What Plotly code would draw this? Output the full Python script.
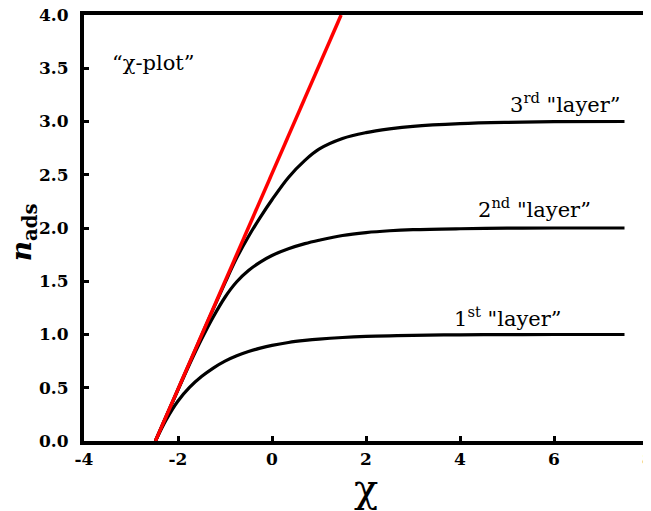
import plotly.graph_objects as go

chi = [-2.48, -2.25, -2.0, -1.75, -1.5, -1.25, -1.0, -0.75, -0.5, -0.25, 0.0,
       0.35, 0.7, 1.0, 1.5, 2.0, 2.5, 3.0, 4.0, 5.0, 6.0, 7.5]
layer1 = [0.0, 0.20, 0.375, 0.505, 0.605, 0.685, 0.75, 0.80, 0.84, 0.872, 0.898,
          0.925, 0.944, 0.957, 0.972, 0.982, 0.988, 0.992, 0.997, 0.999, 1.0, 1.0]
layer2 = [0.0, 0.23, 0.48, 0.725, 0.955, 1.165, 1.35, 1.495, 1.60, 1.68, 1.742,
          1.805, 1.853, 1.885, 1.93, 1.957, 1.974, 1.984, 1.993, 1.998, 2.0, 2.0]
layer3 = [0.0, 0.233, 0.486, 0.739, 0.99, 1.24, 1.485, 1.72, 1.92, 2.10, 2.265,
          2.475, 2.635, 2.74, 2.84, 2.895, 2.93, 2.955, 2.98, 2.992, 2.998, 3.0]
chi_line = [-2.48, 1.47]
n_line = [0.0, 4.0]

x_ticks = [-4, -2, 0, 2, 4, 6, 8]
y_ticks = [0.0, 0.5, 1.0, 1.5, 2.0, 2.5, 3.0, 3.5, 4.0]
y_ticktext = ["0.0", "0.5", "1.0", "1.5", "2.0", "2.5", "3.0", "3.5", "4.0"]

serif = "DejaVu Serif"

fig = go.Figure()
for ys in (layer1, layer2, layer3):
    fig.add_trace(go.Scatter(x=chi, y=ys, mode="lines",
                             line=dict(color="black", width=3.2, shape="spline", smoothing=1.0),
                             showlegend=False, hoverinfo="skip"))
fig.add_trace(go.Scatter(x=chi_line, y=n_line, mode="lines",
                         line=dict(color="#ff0000", width=3.5),
                         showlegend=False, hoverinfo="skip"))

annots = [
    dict(x=-2.53, y=3.55, text="“χ-plot”", xanchor="center", yanchor="middle"),
    dict(x=7.45, y=3.17, text="3<sup>rd</sup> \"layer”", xanchor="right", yanchor="middle"),
    dict(x=6.83, y=2.19, text="2<sup>nd</sup> \"layer”", xanchor="right", yanchor="middle"),
    dict(x=6.19, y=1.16, text="1<sup>st</sup> \"layer”", xanchor="right", yanchor="middle"),
]
for a in annots:
    fig.add_annotation(xref="x", yref="y", showarrow=False,
                       font=dict(family=serif, size=21, color="black"), **a)

# y-axis title placed as a rotated annotation for exact positioning
fig.add_annotation(xref="paper", yref="paper", x=-0.108, y=0.49,
                   text="<b><i>n</i><sub>ads</sub></b>", textangle=-90, showarrow=False,
                   xanchor="center", yanchor="middle",
                   font=dict(family=serif, size=28, color="black"))

# the page body adds an 8px offset, so the figure is 8px smaller and margins shifted
fig.update_layout(
    width=643, height=503,
    margin=dict(l=76, r=3, t=7, b=70),
    paper_bgcolor="white", plot_bgcolor="white",
    font=dict(family=serif, color="black"),
)
fig.update_xaxes(
    range=[-4, 8], tickvals=x_ticks, ticktext=[str(v) for v in x_ticks],
    showgrid=False, zeroline=False, automargin=False, ticklabeloverflow="allow",
    showline=True, linecolor="black", linewidth=4, mirror=True,
    ticks="inside", ticklen=5, tickwidth=3, tickcolor="black",
    tickfont=dict(family=serif, size=17, color="black", weight="bold"),
    title=dict(text="χ", font=dict(family=serif, size=40, color="black"), standoff=3),
)
fig.update_yaxes(
    range=[0, 4], tickvals=y_ticks, ticktext=y_ticktext,
    showgrid=False, zeroline=False, automargin=False, ticklabeloverflow="allow",
    showline=True, linecolor="black", linewidth=4, mirror=True,
    ticks="inside", ticklen=5, tickwidth=3, tickcolor="black",
    ticklabelstandoff=8,
    tickfont=dict(family=serif, size=17, color="black", weight="bold"),
)

fig.write_html("out.html")
